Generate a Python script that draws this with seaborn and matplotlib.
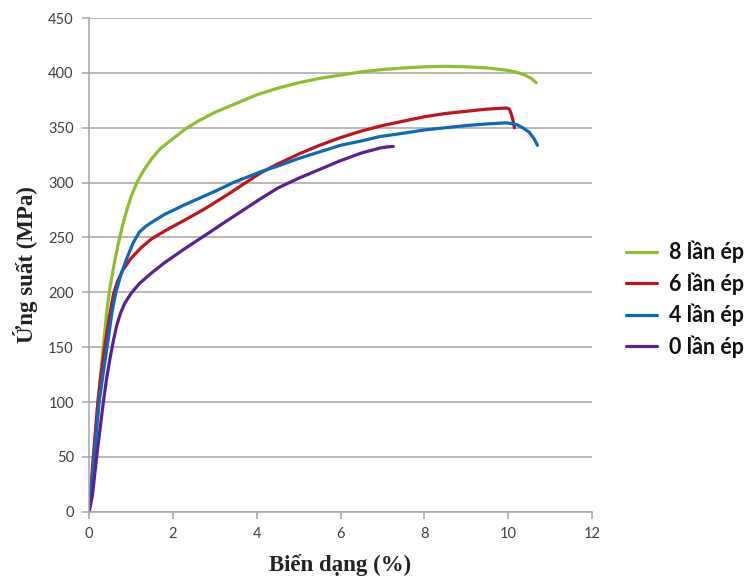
import matplotlib
matplotlib.use("Agg")
import matplotlib.pyplot as plt
import seaborn as sns
import pandas as pd

# Stress-strain curves after different numbers of pressing passes
labels = ["8 lần ép", "6 lần ép", "4 lần ép", "0 lần ép"]

strain_8 = [0, 0.1, 0.2, 0.3, 0.42, 0.5, 0.6, 0.7, 0.8, 0.9, 1.0, 1.14, 1.3, 1.5,
            1.7, 2.0, 2.3, 2.6, 3.0, 3.5, 4.0, 4.5, 5.0, 5.5, 6.0, 6.5, 7.0, 7.5,
            8.0, 8.5, 9.0, 9.5, 9.96, 10.2, 10.4, 10.55, 10.67]
stress_8 = [0, 45, 95, 135, 182, 205, 226, 245, 261, 275, 287, 300, 311, 322,
            331, 340, 349, 356, 364, 372, 380, 386, 391, 395, 398, 401, 403, 404.5,
            405.5, 406, 405.5, 404.5, 402.5, 400.5, 398, 395, 391]

strain_6 = [0, 0.1, 0.21, 0.3, 0.38, 0.48, 0.58, 0.68, 0.8, 1.0, 1.25, 1.5, 1.9,
            2.29, 2.8, 3.3, 3.7, 4.1, 4.5, 5.0, 5.5, 6.0, 6.5, 7.0, 7.5, 8.0, 8.5,
            9.0, 9.5, 9.96, 10.03, 10.08, 10.12, 10.15]
stress_6 = [0, 50, 100, 130, 152, 177, 198, 210, 220, 231, 241, 249, 258,
            266, 277, 289, 299, 309, 317, 326, 334, 341, 347, 352, 356, 360, 363,
            365, 367, 368, 367, 362, 356, 350]

strain_4 = [0, 0.1, 0.24, 0.35, 0.46, 0.55, 0.64, 0.75, 0.9, 1.05, 1.2, 1.35, 1.5,
            1.8, 2.29, 3.0, 3.44, 4.1, 4.5, 5.0, 5.5, 6.0, 6.5, 6.94, 7.5, 8.0, 8.5,
            9.0, 9.5, 9.96, 10.2, 10.35, 10.5, 10.62, 10.7]
stress_4 = [0, 40, 100, 130, 158, 183, 200, 215, 231, 245, 255, 260, 264,
            271, 280, 292, 300, 310, 315, 322, 328, 334, 338, 342, 345, 348, 350,
            352, 353.5, 354.5, 353, 350, 346, 340, 334]

strain_0 = [0, 0.08, 0.18, 0.26, 0.34, 0.42, 0.5, 0.58, 0.66, 0.75, 0.85, 1.0, 1.2,
            1.5, 1.8, 2.29, 2.73, 3.2, 3.6, 4.08, 4.5, 5.0, 5.5, 6.0, 6.5, 6.94,
            7.1, 7.26]
stress_0 = [0, 15, 50, 75, 100, 122, 140, 156, 170, 181, 190, 199, 208,
            218, 227, 240, 251, 263, 273, 285, 295, 304, 312, 320, 327, 331.5,
            332.5, 333]

x_ticks = [0, 2, 4, 6, 8, 10, 12]
y_ticks = [0, 50, 100, 150, 200, 250, 300, 350, 400, 450]

colors = {"8 lần ép": "#8FBE2E", "6 lần ép": "#C0141C",
          "4 lần ép": "#1068B8", "0 lần ép": "#5A2196"}

frames = []
for lab, xs, ys in zip(labels,
                       [strain_8, strain_6, strain_4, strain_0],
                       [stress_8, stress_6, stress_4, stress_0]):
    frames.append(pd.DataFrame({"strain": xs, "stress": ys, "series": lab}))
df = pd.concat(frames, ignore_index=True)

sns.set_theme(style="white")
plt.rcParams["font.family"] = ["Lato", "DejaVu Sans"]

fig = plt.figure(figsize=(7.55, 5.81), dpi=100)
ax = fig.add_axes([0.118, 0.119, 0.666, 0.850])

sns.lineplot(data=df, x="strain", y="stress", hue="series", hue_order=labels,
             palette=colors, sort=False, estimator=None, units="series",
             linewidth=2.3, ax=ax, legend=True)
for line in ax.get_lines():
    line.set_solid_joinstyle("round")
    line.set_solid_capstyle("round")

ax.set_xlim(0, 12)
ax.set_ylim(0, 450)
ax.set_xticks(x_ticks)
ax.set_yticks(y_ticks)
ax.yaxis.grid(True, color="#A6A6A6", linewidth=1.1)
ax.xaxis.grid(False)
ax.set_axisbelow(True)
for side in ["top", "right"]:
    ax.spines[side].set_visible(False)
for side in ["left", "bottom"]:
    ax.spines[side].set_color("#A6A6A6")
    ax.spines[side].set_linewidth(1.1)
ax.tick_params(axis="both", which="major", length=5, width=1.1, color="#A6A6A6",
               labelsize=10.5, labelcolor="#404040", direction="out",
               bottom=True, left=True, pad=6)

ax.set_xlabel("Biến dạng (%)", family="Liberation Serif", fontweight="bold",
              fontsize=16.5, color="#222222", labelpad=9)
ax.set_ylabel("Ứng suất (MPa)", family="Liberation Serif", fontweight="bold",
              fontsize=16.5, color="#222222", labelpad=7)

handles, lbls = ax.get_legend_handles_labels()
ax.get_legend().remove()
leg = fig.legend(handles, lbls, loc="center left", bbox_to_anchor=(0.829, 0.485),
                 frameon=False, borderpad=0, borderaxespad=0,
                 handlelength=1.45, handletextpad=0.55, labelspacing=0.42,
                 prop={"family": "Lato", "weight": "bold", "size": 15.5})
for t in leg.get_texts():
    t.set_color("#111111")

fig.savefig("out.png", dpi=100)
